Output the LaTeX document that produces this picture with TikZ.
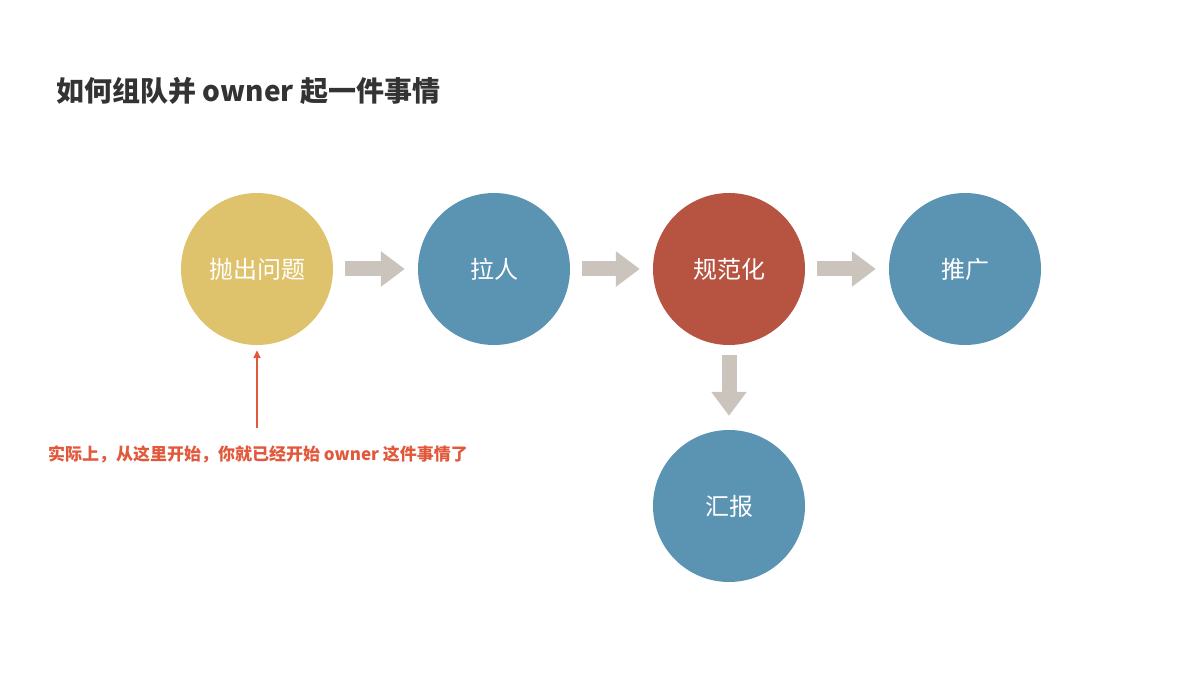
\documentclass[tikz,border=0pt]{standalone}
\usepackage{fontspec}
\newfontfamily\cjk{Noto Sans CJK SC}
\usetikzlibrary{arrows.meta}
\definecolor{cyel}{HTML}{DFC36C}
\definecolor{cblue}{HTML}{5B93B2}
\definecolor{cred}{HTML}{B65341}
\definecolor{cgray}{HTML}{CBC4BC}
\definecolor{cnote}{HTML}{E2583A}
\definecolor{ctitle}{HTML}{333333}
\tikzset{
  disc/.style={circle, minimum size=152pt, inner sep=0pt, text=white, font=\cjk\fontsize{24}{28}\selectfont},
  flow/.style={draw=cgray, line width=15pt, -{Triangle[length=24pt,width=34pt]}, shorten <=12pt, shorten >=13pt},
  note/.style={draw=cnote, line width=1.6pt, -{Triangle[length=8pt,width=7pt]}}
}
\begin{document}
\begin{tikzpicture}[x=1pt,y=-1pt]
\useasboundingbox (0,0) rectangle (1200,676);
\node[anchor=west, text=ctitle, font=\cjk\bfseries\fontsize{28}{32}\selectfont] (title) at (53,91) {如何组队并 owner 起一件事情};
\node[disc, fill=cyel] (a) at (257,269) {抛出问题};
\node[disc, fill=cblue] (b) at (494,269) {拉人};
\node[disc, fill=cred] (c) at (729,269) {规范化};
\node[disc, fill=cblue] (d) at (965,269) {推广};
\node[disc, fill=cblue] (e) at (729,506) {汇报};
\draw[flow] (a) -- (b);
\draw[flow] (b) -- (c);
\draw[flow] (c) -- (d);
\draw[flow, shorten <=10pt, shorten >=14pt] (c) -- (e);
\coordinate (n0) at (257,428);
\draw[note, shorten >=5pt] (n0) -- (a);
\node[text=cnote, font=\cjk\bfseries\fontsize{17}{20}\selectfont] (t) at (258,454) {实际上，从这里开始，你就已经开始 owner 这件事情了};
\end{tikzpicture}
\end{document}
